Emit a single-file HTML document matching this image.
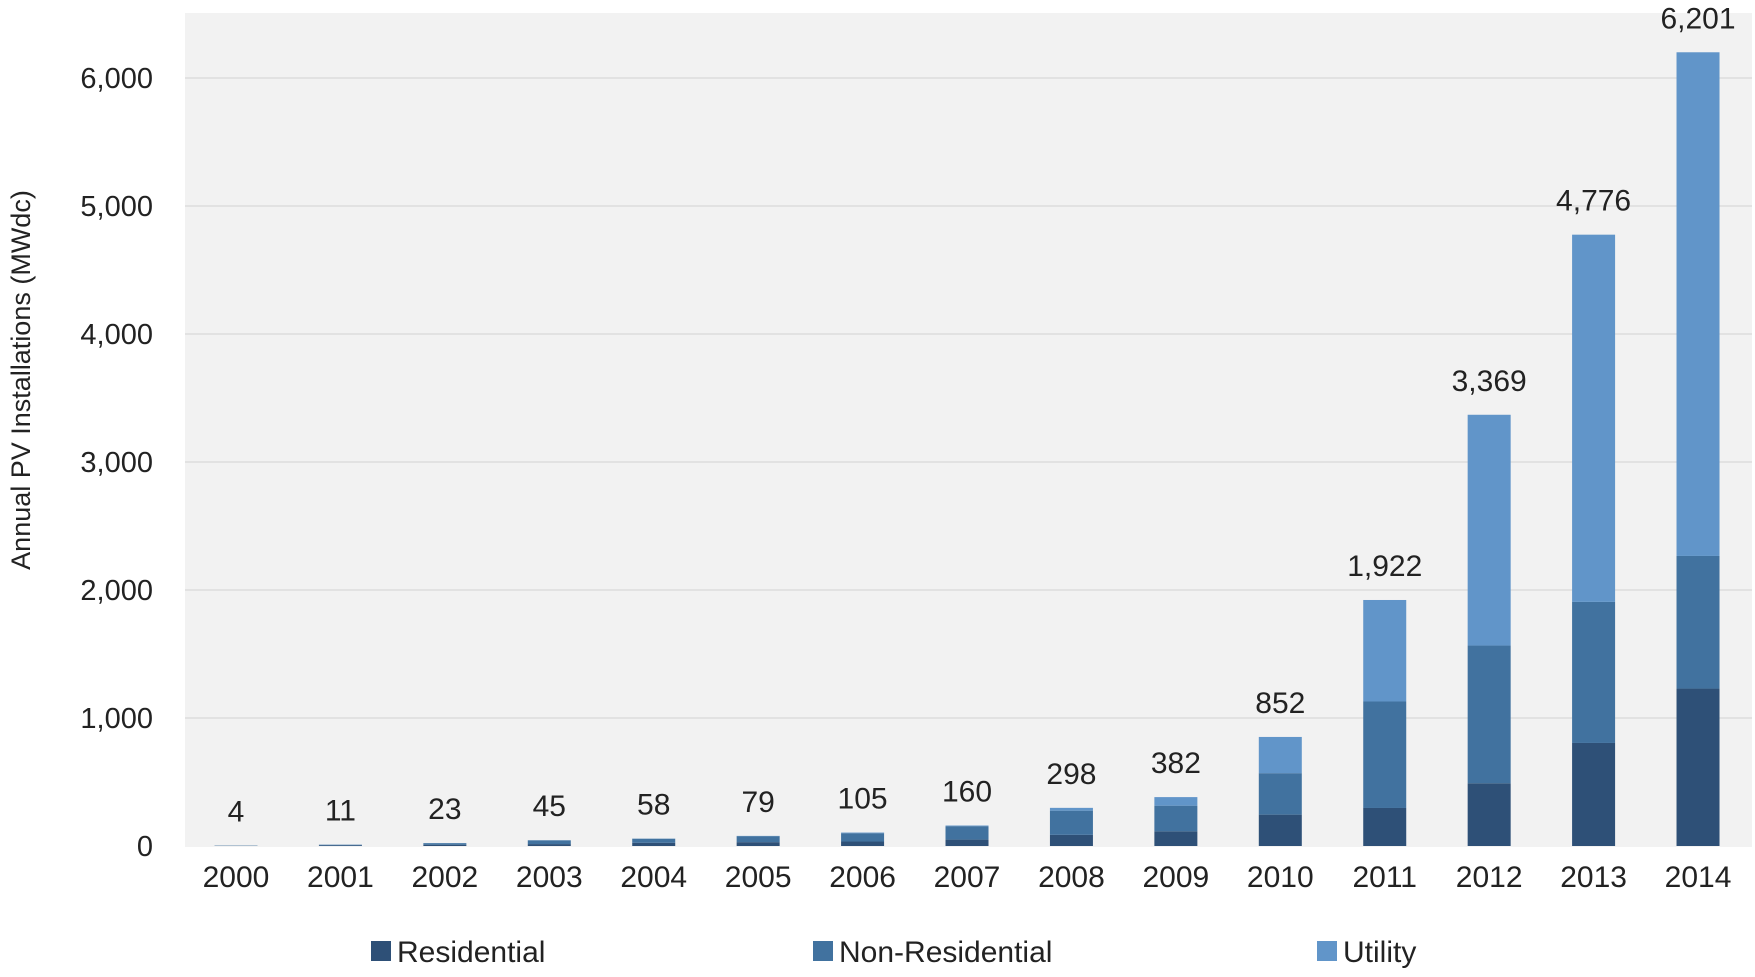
<!DOCTYPE html>
<html><head><meta charset="utf-8"><style>
body{margin:0;background:#fff;}
svg text{font-family:"Liberation Sans Narrow","Liberation Sans",sans-serif;fill:#222;}
</style></head><body>
<svg id="chart" width="1755" height="972" viewBox="0 0 1755 972" xmlns="http://www.w3.org/2000/svg">
<rect x="185" y="13" width="1567" height="834" fill="#f2f2f2"/>
<g id="grid"></g><g id="bars"></g><g id="labels"></g>
<text transform="translate(30,380) rotate(-90)" text-anchor="middle" font-size="27">Annual PV Installations (MWdc)</text>
<g>
<rect x="371" y="941" width="20" height="20" fill="#2e5077"/>
<text x="397" y="962" font-size="30">Residential</text>
<rect x="813" y="941" width="20" height="20" fill="#41729f"/>
<text x="839" y="962" font-size="30">Non-Residential</text>
<rect x="1317" y="941" width="20" height="20" fill="#6195c9"/>
<text x="1343" y="962" font-size="30">Utility</text>
</g>
</svg>
<script>
const years=["2000","2001","2002","2003","2004","2005","2006","2007","2008","2009","2010","2011","2012","2013","2014"];
const residential=[2,5,10,15,25,30,35,50,87,115,245,297,490,805,1230];
const nonResidential=[1,5,12,29,32,47,65,105,189,200,324,832,1076,1102,1036];
const utility=[1,1,1,1,1,2,5,5,22,67,283,793,1803,2869,3935];
const totals=["4","11","23","45","58","79","105","160","298","382","852","1,922","3,369","4,776","6,201"];
const yTicks=[0,1000,2000,3000,4000,5000,6000];
const yTickLabels=["0","1,000","2,000","3,000","4,000","5,000","6,000"];
const NS="http://www.w3.org/2000/svg";
const y0=846,yPer=0.128;
const yScale=v=>y0-v*yPer;
const xScale=i=>236+i*104.43;
const bw=43;
function mk(tag,attrs,parent,txt){const e=document.createElementNS(NS,tag);for(const k in attrs)e.setAttribute(k,attrs[k]);if(txt!==undefined)e.textContent=txt;parent.appendChild(e);return e;}
const grid=document.getElementById('grid'),bars=document.getElementById('bars'),labels=document.getElementById('labels');
yTicks.forEach((t,i)=>{
  if(t>0){const g=mk('line',{x1:185,x2:1752,y1:yScale(t),y2:yScale(t),stroke:'#e2e2e2','stroke-width':2},grid);
  
  }
  const l=mk('text',{x:153,y:yScale(t)+10,'text-anchor':'end','font-size':29},labels,yTickLabels[i]);
  
  
});
const series=[[residential,'#2e5077','residential'],[nonResidential,'#41729f','non-residential'],[utility,'#6195c9','utility']];
years.forEach((yr,i)=>{
  let base=0;const cx=xScale(i);
  series.forEach(([arr,col,nm])=>{
    const v=arr[i];
    const r=mk('rect',{x:cx-bw/2,y:yScale(base+v),width:bw,height:v*yPer,fill:col},bars);
    
    
    base+=v;
  });
  const tl=mk('text',{x:cx,y:yScale(base)-24,'text-anchor':'middle','font-size':30},labels,totals[i]);
  
  
  const xl=mk('text',{x:cx,y:887,'text-anchor':'middle','font-size':30},labels,yr);
  
  
});
</script>
</body></html>
